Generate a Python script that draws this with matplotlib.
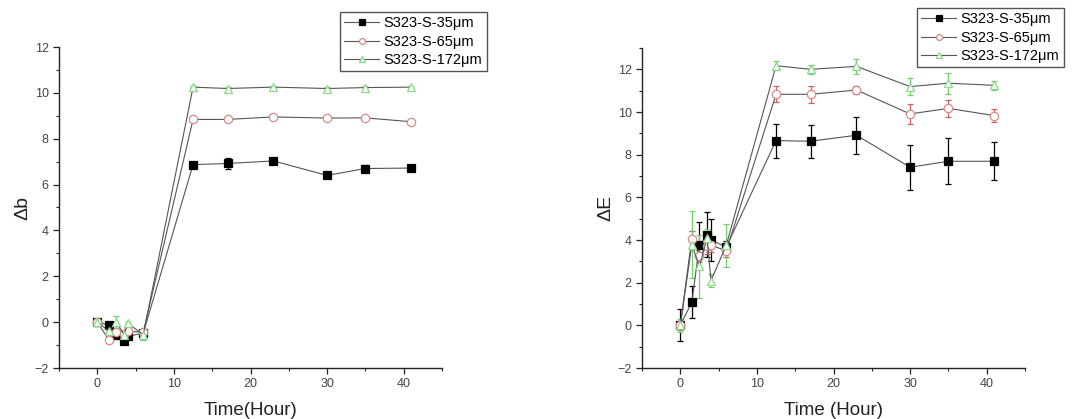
import matplotlib
matplotlib.use("Agg")
import matplotlib.pyplot as plt
from matplotlib.ticker import MultipleLocator

plt.rcParams['font.family'] = ['Liberation Sans', 'DejaVu Sans']

time = [0, 1.5, 2.5, 3.5, 4, 6, 12.5, 17, 23, 30, 35, 41]
labels = ["S323-S-35\u03bcm", "S323-S-65\u03bcm", "S323-S-172\u03bcm"]

# Left panel: delta b
db_35 = [0.0, -0.12, -0.55, -0.84, -0.62, -0.48, 6.87, 6.92, 7.03, 6.40, 6.70, 6.72]
db_35_err = [0.05, 0.05, 0.15, 0.1, 0.1, 0.1, 0.1, 0.25, 0.15, 0.05, 0.15, 0.05]
db_65 = [0.0, -0.77, -0.45, -0.5, -0.4, -0.44, 8.84, 8.84, 8.95, 8.90, 8.91, 8.74]
db_65_err = [0.05, 0.05, 0.1, 0.1, 0.05, 0.1, 0.05, 0.05, 0.1, 0.05, 0.05, 0.05]
db_172 = [0.02, -0.4, 0.0, -0.55, -0.05, -0.55, 10.25, 10.19, 10.25, 10.19, 10.23, 10.25]
db_172_err = [0.05, 0.1, 0.25, 0.1, 0.05, 0.25, 0.05, 0.05, 0.05, 0.05, 0.05, 0.05]

# Right panel: delta E
de_35 = [0.0, 1.08, 3.75, 4.24, 4.0, 3.67, 8.66, 8.63, 8.91, 7.41, 7.69, 7.69]
de_35_err = [0.75, 0.75, 1.1, 1.06, 1.0, 0.3, 0.8, 0.77, 0.87, 1.05, 1.08, 0.9]
de_65 = [0.0, 4.07, 3.26, 3.7, 3.75, 3.5, 10.83, 10.83, 11.03, 9.91, 10.17, 9.83]
de_65_err = [0.2, 0.33, 0.3, 0.35, 0.3, 0.3, 0.37, 0.4, 0.2, 0.45, 0.4, 0.3]
de_172 = [0.0, 3.78, 2.76, 4.1, 2.09, 3.75, 12.17, 12.0, 12.14, 11.19, 11.35, 11.25]
de_172_err = [0.3, 1.56, 1.48, 0.4, 0.3, 1.0, 0.2, 0.2, 0.35, 0.4, 0.5, 0.2]

fig = plt.figure(figsize=(10.8, 4.19), dpi=100)
W, H = 1080, 419
ax1 = fig.add_axes([59 / W, 1 - 368 / H, (442 - 59) / W, (368 - 47) / H])
ax2 = fig.add_axes([642 / W, 1 - 368 / H, (1025 - 642) / W, (368 - 48) / H])

styles = [
    dict(marker='s', mfc='black', mec='black', ecolor='black'),
    dict(marker='o', mfc='white', mec='#d98a8a', ecolor='#d06060'),
    dict(marker='^', mfc='white', mec='#8ad88a', ecolor='#70d070'),
]


def draw(ax, series, errs, ylim, ylabel, xlabel):
    handles = []
    for y, e, st in zip(series, errs, styles):
        ax.errorbar(time, y, yerr=e, fmt='none', ecolor=st['ecolor'],
                    elinewidth=0.9, capsize=2.5, capthick=0.9, zorder=2)
        h, = ax.plot(time, y, color='#555555', lw=0.8, marker=st['marker'],
                     ms=6, mfc=st['mfc'], mec=st['mec'], mew=0.9, zorder=3)
        handles.append(h)
    ax.set_xlim(-5, 45)
    ax.set_ylim(*ylim)
    ax.xaxis.set_major_locator(MultipleLocator(10))
    ax.xaxis.set_minor_locator(MultipleLocator(5))
    ax.yaxis.set_major_locator(MultipleLocator(2))
    ax.yaxis.set_minor_locator(MultipleLocator(1))
    for s in ['top', 'right']:
        ax.spines[s].set_visible(False)
    for s in ['left', 'bottom']:
        ax.spines[s].set_linewidth(1.0)
        ax.spines[s].set_color('#222222')
    ax.tick_params(which='major', direction='out', length=4, width=0.9,
                   labelsize=9, labelcolor='#444444', color='#222222')
    ax.tick_params(which='minor', direction='out', length=2.5, width=0.8,
                   color='#222222')
    ax.set_ylabel(ylabel, fontsize=14, color='#222222', labelpad=2)
    ax.set_xlabel(xlabel, fontsize=13.5, color='#222222', labelpad=8)
    return handles


h1 = draw(ax1, [db_35, db_65, db_172], [db_35_err, db_65_err, db_172_err],
          (-2, 12), "\u0394b", "Time(Hour)")
h2 = draw(ax2, [de_35, de_65, de_172], [de_35_err, de_65_err, de_172_err],
          (-2, 13), "\u0394E", "Time (Hour)")

for hs, box in [(h1, (340, 12)), (h2, (917, 8))]:
    fig.legend(hs, labels, loc='upper left',
               bbox_to_anchor=(box[0] / W, 1 - box[1] / H),
               fontsize=10.5, frameon=True, fancybox=False, edgecolor='#555555',
               framealpha=1, handlelength=2.4, handletextpad=0.3,
               borderpad=0.3, labelspacing=0.3, borderaxespad=0,
               markerscale=0.7)

fig.savefig("out.png", dpi=100)
